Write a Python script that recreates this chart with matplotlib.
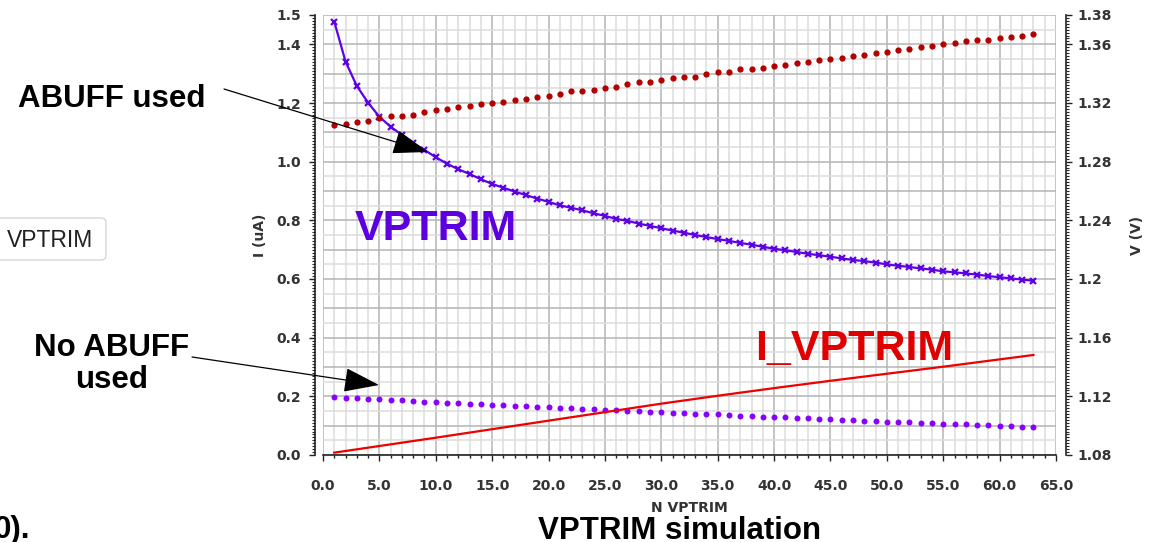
import numpy as np
import matplotlib
matplotlib.use('Agg')
import matplotlib.pyplot as plt
from matplotlib.patches import FancyArrowPatch, FancyBboxPatch
from matplotlib.ticker import FixedLocator, MultipleLocator, FuncFormatter

# ---------------- data ----------------
n_vptrim = list(range(1, 64))

# VPTRIM current, ABUFF used (purple line, x markers) - left axis
i_vptrim_abuff = [1.477, 1.341, 1.258, 1.201, 1.153, 1.119, 1.091, 1.063, 1.040, 1.015,
                  0.993, 0.974, 0.958, 0.940, 0.924, 0.911, 0.898, 0.886, 0.874, 0.863,
                  0.851, 0.843, 0.834, 0.824, 0.815, 0.805, 0.798, 0.789, 0.781, 0.773,
                  0.765, 0.758, 0.750, 0.743, 0.736, 0.730, 0.723, 0.717, 0.710, 0.703,
                  0.698, 0.692, 0.686, 0.681, 0.676, 0.670, 0.665, 0.661, 0.656, 0.650,
                  0.645, 0.641, 0.636, 0.632, 0.626, 0.623, 0.619, 0.615, 0.610, 0.606,
                  0.602, 0.598, 0.594]

# VPTRIM current, no ABUFF (purple dots) - left axis
i_vptrim_noabuff = [0.199, 0.195, 0.193, 0.191, 0.190, 0.188, 0.186, 0.184, 0.182, 0.181,
                    0.178, 0.177, 0.175, 0.173, 0.172, 0.169, 0.168, 0.166, 0.165, 0.163,
                    0.161, 0.159, 0.157, 0.156, 0.153, 0.152, 0.151, 0.149, 0.148, 0.146,
                    0.144, 0.143, 0.141, 0.140, 0.139, 0.136, 0.134, 0.133, 0.131, 0.130,
                    0.128, 0.127, 0.125, 0.124, 0.123, 0.120, 0.119, 0.117, 0.116, 0.114,
                    0.112, 0.111, 0.110, 0.108, 0.107, 0.106, 0.104, 0.102, 0.101, 0.099,
                    0.098, 0.097, 0.095]

# VPTRIM voltage (dark red dots) - right axis
v_vptrim = [1.305, 1.306, 1.307, 1.308, 1.310, 1.311, 1.311, 1.312, 1.314, 1.315,
            1.316, 1.317, 1.318, 1.319, 1.320, 1.321, 1.322, 1.323, 1.324, 1.325,
            1.326, 1.328, 1.328, 1.329, 1.330, 1.331, 1.333, 1.334, 1.334, 1.336,
            1.337, 1.338, 1.338, 1.340, 1.341, 1.341, 1.343, 1.343, 1.344, 1.345,
            1.346, 1.347, 1.348, 1.349, 1.350, 1.351, 1.352, 1.353, 1.354, 1.355,
            1.356, 1.357, 1.358, 1.359, 1.360, 1.361, 1.362, 1.363, 1.363, 1.364,
            1.365, 1.366, 1.367]

# I_VPTRIM (red line) - left axis
n_ivptrim = [1, 10, 20, 25, 30, 35, 40, 45, 50, 55, 60, 63]
i_ivptrim = [0.008, 0.059, 0.117, 0.146, 0.175, 0.202, 0.228, 0.253, 0.277, 0.301, 0.326, 0.341]

left_ticks = [0.0, 0.2, 0.4, 0.6, 0.8, 1.0, 1.2, 1.4, 1.5]
right_ticks = [1.08, 1.12, 1.16, 1.2, 1.24, 1.28, 1.32, 1.36, 1.38]

# ---------------- colours ----------------
PURPLE = '#5e00e4'
PURPLE_DOT = '#8a00ff'
DARKRED = '#b30000'
RED = '#ee0000'
TICK_C = '#333333'
GRID_MAJ = '#b4b4b4'
GRID_MIN = '#dcdcdc'

fig = plt.figure(figsize=(11.59, 5.42), dpi=100, facecolor='white')
ax = fig.add_axes((323/1159, 87/542, 733/1159, 440/542))
ax2 = ax.twinx()

ax.set_xlim(0, 65)
ax.set_ylim(0, 1.5)
ax2.set_ylim(1.08, 1.38)

# grid drawn by hand: major every 5 / 0.1, minor every 1 / 0.05
for xv in range(0, 66):
    ax.axvline(xv, color=GRID_MAJ if xv % 5 == 0 else GRID_MIN, lw=1.1, zorder=0.5)
for k in range(0, 31):
    ax.axhline(k*0.05, color=GRID_MAJ if k % 2 == 0 else GRID_MIN, lw=1.1, zorder=0.5)

# series
ax.plot(n_vptrim, i_vptrim_abuff, '-', color=PURPLE, lw=1.6, marker='x', ms=4.5, mew=1.6, zorder=3)
ax.plot(n_vptrim, i_vptrim_noabuff, 'o', color=PURPLE_DOT, ms=4.3, mec='none', zorder=3)
ax.plot(n_ivptrim, i_ivptrim, '-', color=RED, lw=1.6, zorder=3)
ax2.plot(n_vptrim, v_vptrim, 'o', color=DARKRED, ms=4.5, mec='none', zorder=3)

# ---------------- axes styling ----------------
for a in (ax, ax2):
    for s in a.spines.values():
        s.set_visible(False)
ax.spines['left'].set_visible(True)
ax.spines['left'].set_position(('outward', 6))
ax.spines['bottom'].set_visible(True)
ax2.spines['right'].set_visible(True)
ax2.spines['right'].set_position(('outward', 7))
for s in (ax.spines['left'], ax.spines['bottom'], ax2.spines['right']):
    s.set_color('#222222')
    s.set_linewidth(1.2)

tick_font = dict(fontsize=10, fontweight='bold', color=TICK_C, family='DejaVu Sans')

ax.xaxis.set_major_locator(MultipleLocator(5))
ax.xaxis.set_minor_locator(MultipleLocator(1))
ax.xaxis.set_major_formatter(FuncFormatter(lambda v, p: f'{v:.1f}'))
ax.tick_params(axis='x', which='major', direction='out', length=4, width=1, pad=13, color='#222222')
ax.tick_params(axis='x', which='minor', direction='out', length=2.5, width=1, color='#222222')

ax.yaxis.set_major_locator(FixedLocator(left_ticks))
ax.yaxis.set_minor_locator(MultipleLocator(0.01))
ax.yaxis.set_major_formatter(FuncFormatter(lambda v, p: f'{v:.1f}'))
ax.tick_params(axis='y', which='major', direction='out', length=4, width=1, pad=6, color='#222222')
ax.tick_params(axis='y', which='minor', direction='out', length=2, width=0.8, color='#222222')

ax2.yaxis.set_major_locator(FixedLocator(right_ticks))
ax2.yaxis.set_minor_locator(MultipleLocator(0.002))
ax2.yaxis.set_major_formatter(FuncFormatter(lambda v, p: f'{v:g}'))
ax2.tick_params(axis='y', which='major', direction='out', length=4.5, width=1, pad=4, color='#222222')
ax2.tick_params(axis='y', which='minor', direction='out', length=2, width=0.8, color='#222222')

for lab in ax.get_xticklabels() + ax.get_yticklabels() + ax2.get_yticklabels():
    lab.set(**tick_font)

ax.set_xlabel('N VPTRIM', **tick_font)
ax.xaxis.set_label_coords(0.5, -0.104)
ax.set_ylabel('I (uA)', **tick_font)
ax.yaxis.set_label_coords(-0.086, 0.5)
ax.yaxis.label.set_verticalalignment('center')
ax2.set_ylabel('V (V)', **tick_font, rotation=90)
ax2.yaxis.set_label_coords(1.11, 0.5)
ax2.yaxis.label.set_verticalalignment('center')

# ---------------- annotations (figure pixel coordinates) ----------------
px = fig.dpi_scale_trans  # 1 unit = 1 inch = 100 px


def P(x, y):
    return (x/100, (542 - y)/100)


big = dict(family='Liberation Sans', fontweight='bold', transform=px)

fig.text(*P(355, 240), 'VPTRIM', color='#5c00e0', fontsize=31, **big)
fig.text(*P(755, 360), 'I_VPTRIM', color='#e00000', fontsize=31, **big)
fig.text(*P(112, 107), 'ABUFF used', color='black', fontsize=22.5, ha='center', **big)
fig.text(*P(112, 356), 'No ABUFF', color='black', fontsize=22.5, ha='center', **big)
fig.text(*P(112, 388), 'used', color='black', fontsize=22.5, ha='center', **big)
fig.text(*P(680, 539), 'VPTRIM simulation', color='black', fontsize=22.5, ha='center', **big)
fig.text(*P(-6, 538), '0).', color='black', fontsize=22.5, ha='left', **big)

for (x0, y0), (x1, y1) in [((224, 89), (428, 152)), ((192, 357), (379, 385))]:
    arr = FancyArrowPatch(P(x0, y0), P(x1, y1), transform=px,
                          arrowstyle='-|>,head_length=1.6,head_width=0.55',
                          mutation_scale=14, color='black', lw=0.9,
                          shrinkA=0, shrinkB=0)
    fig.add_artist(arr)

# little cut-off button on the left
box = FancyBboxPatch(P(-10, 260), 1.16, 0.42, transform=px,
                     boxstyle='round,pad=0,rounding_size=0.05',
                     facecolor='white', edgecolor='#d6d6d6', lw=1)
fig.add_artist(box)
fig.text(*P(7, 247), 'VPTRIM', color='#222222', fontsize=16.5,
         family='Liberation Sans', transform=px)

fig.savefig('out.png', dpi=100)
